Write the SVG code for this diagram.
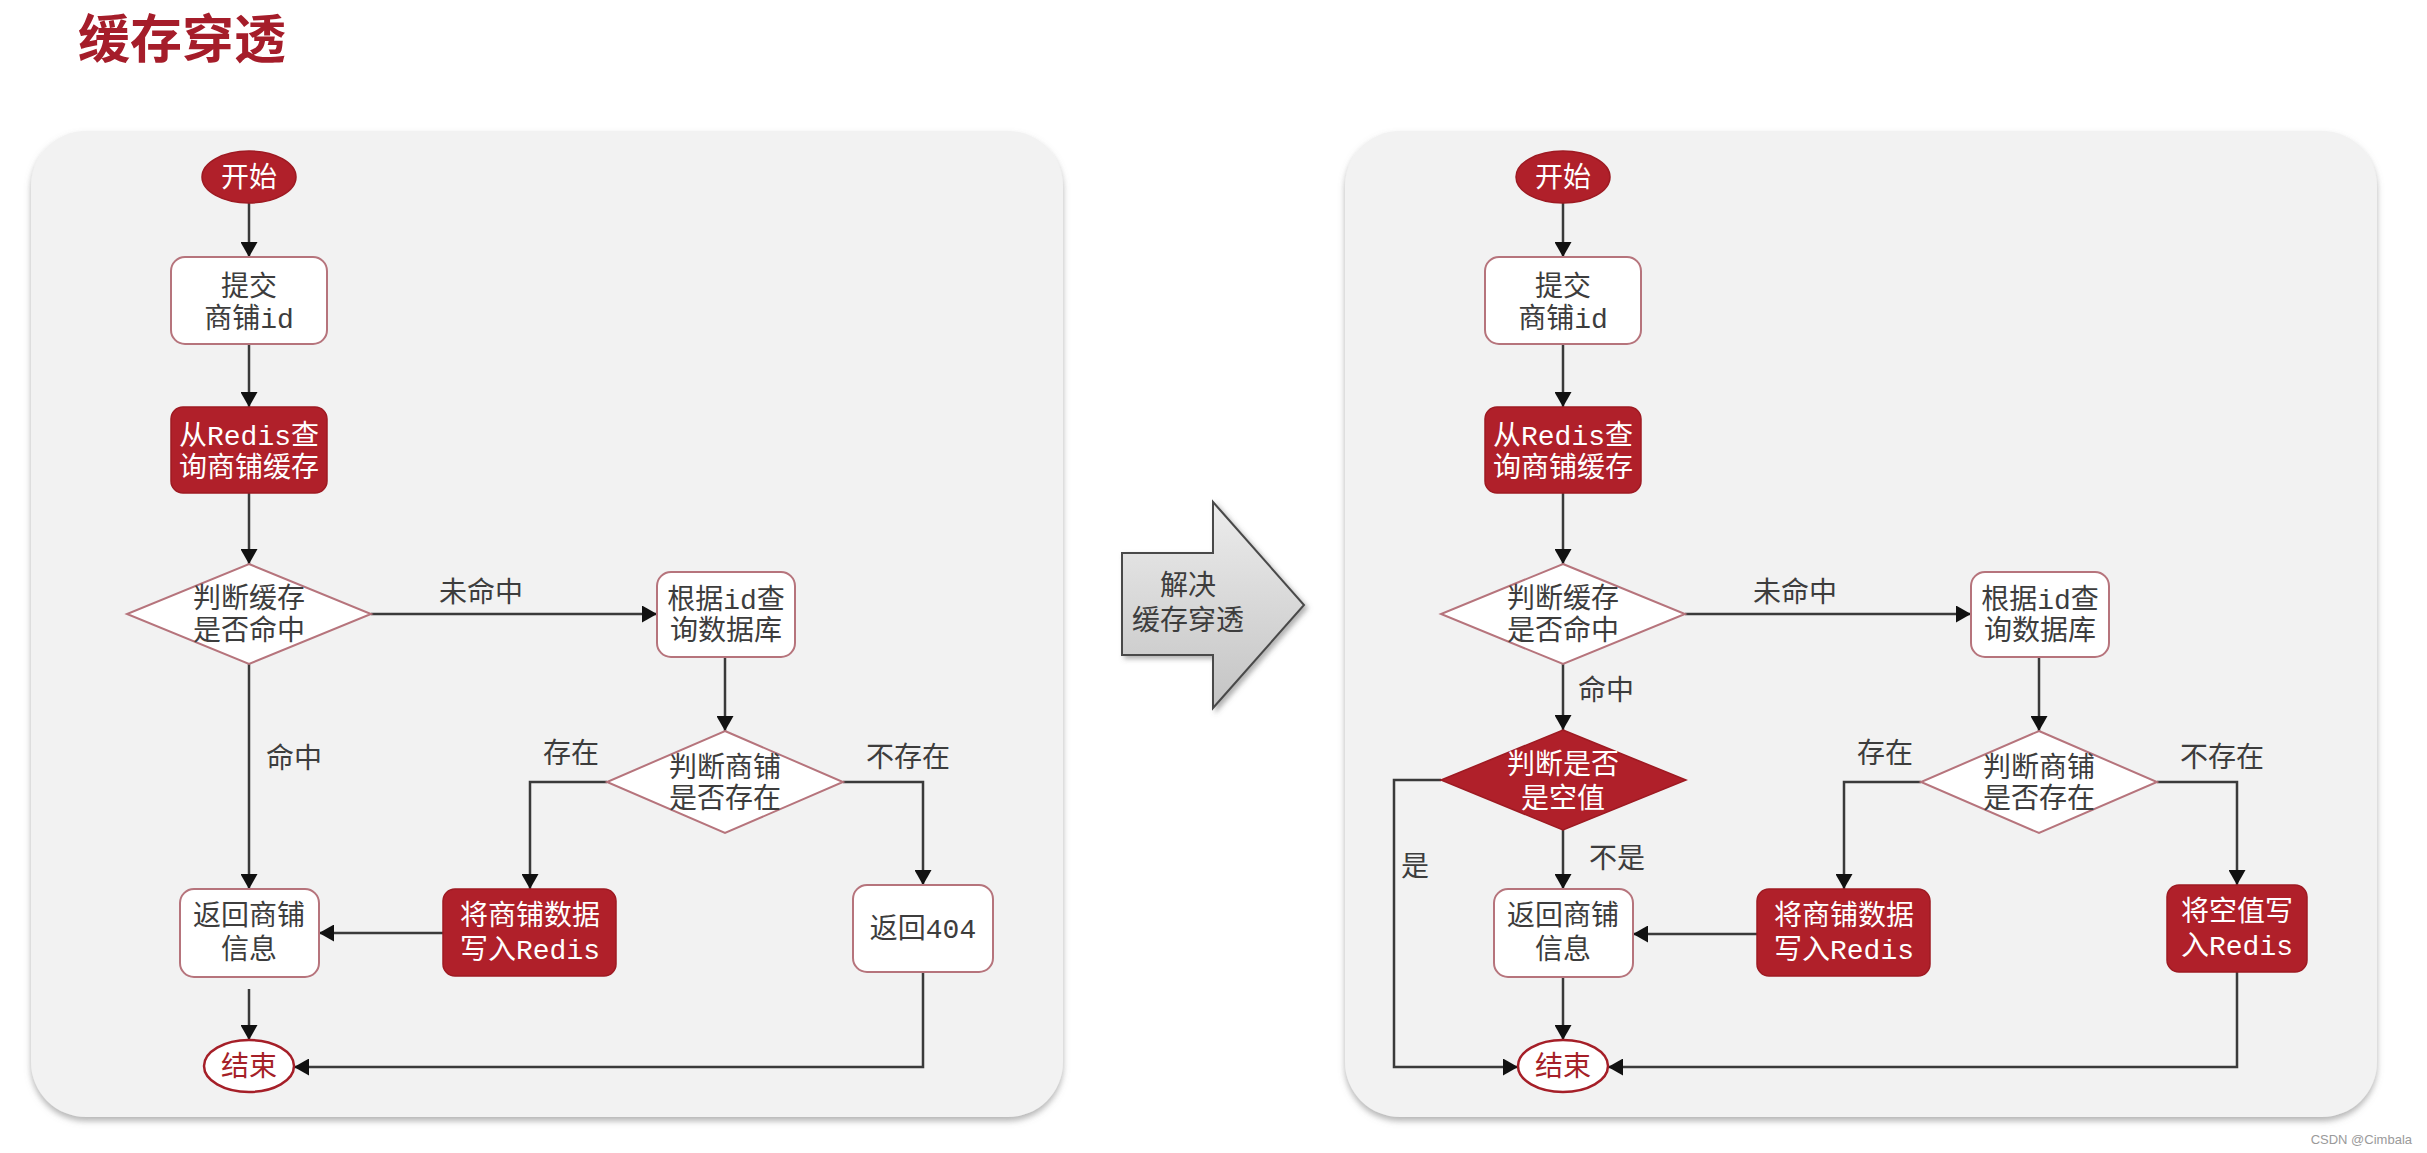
<svg xmlns="http://www.w3.org/2000/svg" width="2427" height="1153" viewBox="0 0 2427 1153">
<style>
.t{font-family:"Liberation Mono","Noto Sans CJK SC",monospace;font-size:28px;text-anchor:middle;fill:#3d3d3d}
.w{fill:#ffffff}
.rt{fill:#a51f28}
.box{fill:#ffffff;stroke:#b6747c;stroke-width:2}
.red{fill:#b0202a;stroke:#9e1a22;stroke-width:1.5}
.endn{fill:#ffffff;stroke:#a51f28;stroke-width:2.5}
.panel{fill:#f2f2f2}
.c{fill:none;stroke:#3a3a3a;stroke-width:2.5;marker-end:url(#ah)}
</style>
<defs>
<marker id="ah" markerUnits="userSpaceOnUse" markerWidth="15" markerHeight="17" viewBox="0 0 15 17" refX="15" refY="8.5" orient="auto">
<path d="M0,0 L15,8.5 L0,17 z" fill="#111"/>
</marker>
<filter id="sh" x="-5%" y="-5%" width="110%" height="112%">
<feDropShadow dx="0" dy="4" stdDeviation="3" flood-color="#777" flood-opacity="0.55"/>
</filter>
<filter id="ash" x="-10%" y="-10%" width="125%" height="125%">
<feDropShadow dx="3" dy="3" stdDeviation="2.5" flood-color="#666" flood-opacity="0.5"/>
</filter>
<linearGradient id="ag" x1="0" y1="0" x2="0" y2="1">
<stop offset="0" stop-color="#ececec"/>
<stop offset="1" stop-color="#c4c4c4"/>
</linearGradient>
</defs>

<rect width="2427" height="1153" fill="#ffffff"/>
<text x="78" y="58" font-family="Noto Sans CJK SC, sans-serif" font-size="52" font-weight="bold" fill="#a51d2a">缓存穿透</text>

<rect id="panel-left" class="panel" x="31" y="131" width="1032" height="986" rx="55" filter="url(#sh)"/>
<rect id="panel-right" class="panel" x="1345" y="131" width="1032" height="986" rx="55" filter="url(#sh)"/>

<g id="solve-arrow">
<polygon points="1122,553 1213,553 1213,502 1304,605 1213,708 1213,655 1122,655" fill="url(#ag)" stroke="#4a4a4a" stroke-width="2" filter="url(#ash)"/>
<text class="t" x="1188" y="595" font-size="29" fill="#444">解决</text>
<text class="t" x="1188" y="630" font-size="29" fill="#444">缓存穿透</text>
</g>

<g id="connectors-left">
<path class="c" d="M249,203 V257"/>
<path class="c" d="M249,344 V407"/>
<path class="c" d="M249,493 V564"/>
<path class="c" d="M371,614 H657"/>
<path class="c" d="M725,657 V731"/>
<path class="c" d="M607,782 H530 V889"/>
<path class="c" d="M843,782 H923 V885"/>
<path class="c" d="M249,664 V889"/>
<path class="c" d="M443,933 H319"/>
<path class="c" d="M249,989 V1040"/>
<path class="c" d="M923,972 V1067 H294"/>
<text class="t" x="481" y="602">未命中</text>
<text class="t" x="294" y="768">命中</text>
<text class="t" x="571" y="763">存在</text>
<text class="t" x="908" y="767">不存在</text>
</g>

<g id="connectors-right">
<path class="c" d="M1563,203 V257"/>
<path class="c" d="M1563,344 V407"/>
<path class="c" d="M1563,493 V564"/>
<path class="c" d="M1685,614 H1971"/>
<path class="c" d="M2039,657 V731"/>
<path class="c" d="M1921,782 H1844 V889"/>
<path class="c" d="M2157,782 H2237 V885"/>
<path class="c" d="M1563,664 V730"/>
<path class="c" d="M1563,830 V889"/>
<path class="c" d="M1441,780 H1394 V1067 H1518"/>
<path class="c" d="M1757,934 H1633"/>
<path class="c" d="M1563,977 V1040"/>
<path class="c" d="M2237,972 V1067 H1608"/>
<text class="t" x="1795" y="602">未命中</text>
<text class="t" x="1606" y="700">命中</text>
<text class="t" x="1885" y="763">存在</text>
<text class="t" x="2222" y="767">不存在</text>
<text class="t" x="1415" y="876">是</text>
<text class="t" x="1617" y="868">不是</text>
</g>

<g id="l-start"><ellipse class="red" cx="249" cy="177" rx="47" ry="26"/><text class="t w" x="249" y="187">开始</text></g>
<g id="l-submit"><rect class="box" x="171" y="257" width="156" height="87" rx="14"/><text class="t" x="249" y="296">提交</text><text class="t" x="249" y="328">商铺id</text></g>
<g id="l-redis"><rect class="red" x="171" y="407" width="156" height="86" rx="12"/><text class="t w" x="249" y="445">从Redis查</text><text class="t w" x="249" y="477">询商铺缓存</text></g>
<g id="l-hit"><polygon class="box" points="249,564 371,614 249,664 127,614"/><text class="t" x="249" y="608">判断缓存</text><text class="t" x="249" y="640">是否命中</text></g>
<g id="l-db"><rect class="box" x="657" y="572" width="138" height="85" rx="14"/><text class="t" x="726" y="609">根据id查</text><text class="t" x="726" y="640">询数据库</text></g>
<g id="l-exist"><polygon class="box" points="725,731 843,782 725,833 607,782"/><text class="t" x="725" y="777">判断商铺</text><text class="t" x="725" y="808">是否存在</text></g>
<g id="l-write"><rect class="red" x="443" y="889" width="173" height="87" rx="12"/><text class="t w" x="530" y="925">将商铺数据</text><text class="t w" x="530" y="959">写入Redis</text></g>
<g id="l-return"><rect class="box" x="180" y="889" width="139" height="88" rx="14"/><text class="t" x="249" y="925">返回商铺</text><text class="t" x="249" y="959">信息</text></g>
<g id="l-404"><rect class="box" x="853" y="885" width="140" height="87" rx="14"/><text class="t" x="923" y="938">返回404</text></g>
<g id="l-end"><ellipse class="endn" cx="249" cy="1066" rx="45" ry="26"/><text class="t rt" x="249" y="1076">结束</text></g>

<g id="r-start"><ellipse class="red" cx="1563" cy="177" rx="47" ry="26"/><text class="t w" x="1563" y="187">开始</text></g>
<g id="r-submit"><rect class="box" x="1485" y="257" width="156" height="87" rx="14"/><text class="t" x="1563" y="296">提交</text><text class="t" x="1563" y="328">商铺id</text></g>
<g id="r-redis"><rect class="red" x="1485" y="407" width="156" height="86" rx="12"/><text class="t w" x="1563" y="445">从Redis查</text><text class="t w" x="1563" y="477">询商铺缓存</text></g>
<g id="r-hit"><polygon class="box" points="1563,564 1685,614 1563,664 1441,614"/><text class="t" x="1563" y="608">判断缓存</text><text class="t" x="1563" y="640">是否命中</text></g>
<g id="r-null"><polygon class="red" points="1563,730 1686,780 1563,830 1441,780"/><text class="t w" x="1563" y="774">判断是否</text><text class="t w" x="1563" y="808">是空值</text></g>
<g id="r-db"><rect class="box" x="1971" y="572" width="138" height="85" rx="14"/><text class="t" x="2040" y="609">根据id查</text><text class="t" x="2040" y="640">询数据库</text></g>
<g id="r-exist"><polygon class="box" points="2039,731 2157,782 2039,833 1921,782"/><text class="t" x="2039" y="777">判断商铺</text><text class="t" x="2039" y="808">是否存在</text></g>
<g id="r-write"><rect class="red" x="1757" y="889" width="173" height="87" rx="12"/><text class="t w" x="1844" y="925">将商铺数据</text><text class="t w" x="1844" y="959">写入Redis</text></g>
<g id="r-return"><rect class="box" x="1494" y="889" width="139" height="88" rx="14"/><text class="t" x="1563" y="925">返回商铺</text><text class="t" x="1563" y="959">信息</text></g>
<g id="r-writenull"><rect class="red" x="2167" y="885" width="140" height="87" rx="12"/><text class="t w" x="2237" y="921">将空值写</text><text class="t w" x="2237" y="955">入Redis</text></g>
<g id="r-end"><ellipse class="endn" cx="1563" cy="1066" rx="45" ry="26"/><text class="t rt" x="1563" y="1076">结束</text></g>

<text x="2412" y="1144" font-family="Liberation Sans, sans-serif" font-size="13" text-anchor="end" fill="#9a9a9a">CSDN @Cimbala</text>
</svg>
